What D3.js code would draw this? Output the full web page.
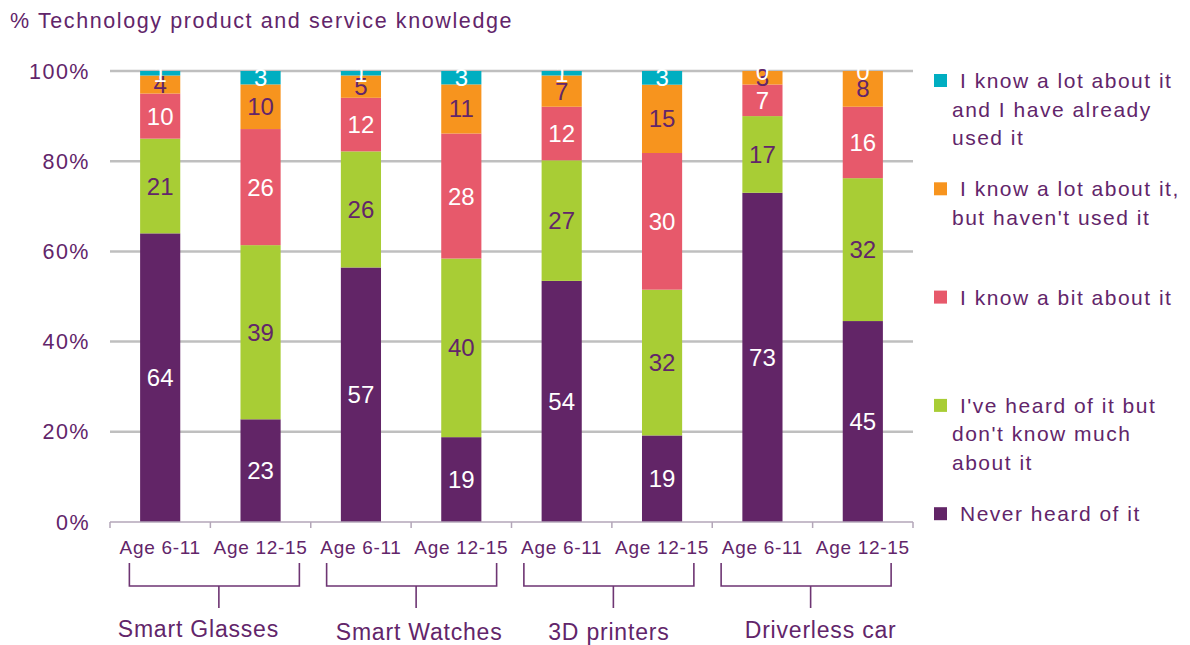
<!DOCTYPE html>
<html><head><meta charset="utf-8">
<script src="https://cdn.jsdelivr.net/npm/d3@7"></script>
<style>
body{margin:0;background:#fff;}
svg text{font-family:"Liberation Sans",Arial,sans-serif;fill:#62256A;}
</style></head><body>
<svg id="c" width="1190" height="645"></svg>
<script>
// ---------- DATA ----------
const title = "% Technology product and service knowledge";
const groups = ["Smart Glasses", "Smart Watches", "3D printers", "Driverless car"];
const ages = ["Age 6-11", "Age 12-15"];
// bottom -> top stacking order
const seriesNames = [
  "Never heard of it",
  "I've heard of it but don't know much about it",
  "I know a bit about it",
  "I know a lot about it, but haven't used it",
  "I know a lot about it and I have already used it"
];
const neverHeard     = [64, 23, 57, 19, 54, 19, 73, 45];
const heardNotMuch   = [21, 39, 26, 40, 27, 32, 17, 32];
const knowBit        = [10, 26, 12, 28, 12, 30, 7, 16];
const knowLotNotUsed = [4, 10, 5, 11, 7, 15, 3, 8];
const knowLotUsed    = [1, 3, 1, 3, 1, 3, 0, 0];
const yTicks = [0, 20, 40, 60, 80, 100];
const yTickLabels = ["0%", "20%", "40%", "60%", "80%", "100%"];
// legend, top -> bottom, wrapped lines
const legendLines = [
  ["I know a lot about it", "and I have already", "used it"],
  ["I know a lot about it,", "but haven't used it"],
  ["I know a bit about it"],
  ["I've heard of it but", "don't know much", "about it"],
  ["Never heard of it"]
];

// ---------- STYLE / LAYOUT ----------
const keys = ["never", "heard", "bit", "lotNot", "lotUsed"];
const colors = ["#622567", "#A8CD35", "#E7596B", "#F7941E", "#00AEC1"];
const labelColors = ["#ffffff", "#62256A", "#ffffff", "#62256A", "#ffffff"];
const plot = {left: 110, right: 913, top: 71, bottom: 522};
const groupLabelNudge = [[-12, -2], [8, 1], [-3, 1], [8, -1]];

const svg = d3.select("#c");

const cats = [];
groups.forEach((g, gi) => ages.forEach((a, ai) => cats.push({id: gi + "-" + ai, group: g, age: a})));
const rows = cats.map((c, i) => ({
  id: c.id,
  never: neverHeard[i], heard: heardNotMuch[i], bit: knowBit[i],
  lotNot: knowLotNotUsed[i], lotUsed: knowLotUsed[i]
}));

const x = d3.scaleBand().domain(cats.map(c => c.id)).range([plot.left, plot.right]).padding(0);
const y = d3.scaleLinear().domain([0, 100]).range([plot.bottom, plot.top]);
const bw = x.bandwidth();
const barW = bw * 0.4;

const stacked = d3.stack().keys(keys).offset(d3.stackOffsetExpand)(rows);

// title
svg.append("text").attr("x", 10).attr("y", 28)
  .style("font-size", "21.5px").style("letter-spacing", "1.6px").text(title);

// gridlines
svg.append("g").selectAll("line").data(yTicks.filter(t => t > 0)).join("line")
  .attr("x1", plot.left).attr("x2", plot.right)
  .attr("y1", d => y(d)).attr("y2", d => y(d))
  .attr("stroke", "#BFBFBF").attr("stroke-width", 2.5);

// y labels
svg.append("g").selectAll("text").data(yTicks).join("text")
  .attr("x", 90).attr("y", d => y(d) + 7.5)
  .attr("text-anchor", "end")
  .style("font-size", "21.5px").style("letter-spacing", "1.5px")
  .text((d, i) => yTickLabels[i]);

// bars
const layers = svg.append("g").selectAll("g").data(stacked).join("g")
  .attr("fill", (d, i) => colors[i]);
layers.selectAll("rect").data(d => d).join("rect")
  .attr("x", d => x(d.data.id) + (bw - barW) / 2)
  .attr("width", barW)
  .attr("y", d => y(d[1] * 100))
  .attr("height", d => y(d[0] * 100) - y(d[1] * 100));

// bar labels
stacked.forEach((layer, li) => {
  svg.append("g").selectAll("text").data(layer).join("text")
    .attr("x", d => x(d.data.id) + bw / 2)
    .attr("y", d => (y(d[0] * 100) + y(d[1] * 100)) / 2 + 8.5)
    .attr("text-anchor", "middle")
    .style("font-size", "24px")
    .style("fill", labelColors[li])
    .text(d => d.data[layer.key]);
});

// x axis line + ticks
const axis = svg.append("g");
axis.append("line").attr("x1", plot.left).attr("x2", plot.right)
  .attr("y1", plot.bottom).attr("y2", plot.bottom)
  .attr("stroke", "#B3A6B8").attr("stroke-width", 1.5);
const bounds = cats.map(c => x(c.id)).concat([plot.right]);
axis.selectAll("line.tk").data(bounds).join("line").attr("class", "tk")
  .attr("x1", d => d).attr("x2", d => d)
  .attr("y1", plot.bottom).attr("y2", plot.bottom + 6)
  .attr("stroke", "#B3A6B8").attr("stroke-width", 1.5);

// age labels
svg.append("g").selectAll("text").data(cats).join("text")
  .attr("x", d => x(d.id) + bw / 2).attr("y", 554)
  .attr("text-anchor", "middle")
  .style("font-size", "19px").style("letter-spacing", "0.7px")
  .text(d => d.age);

// group brackets + labels
groups.forEach((g, gi) => {
  const x0 = x(gi + "-0"), x1 = x(gi + "-1") + bw;
  const gc = (x0 + x1) / 2;
  const bc = gc + 4 - gi * 3.5;
  const l = bc - 85, r = bc + 85;
  svg.append("path")
    .attr("d", `M${l},563V586H${r}V563M${bc + 4.5},586V608`)
    .attr("fill", "none").attr("stroke", "#6E3573").attr("stroke-width", 1.6);
  svg.append("text").attr("x", gc + groupLabelNudge[gi][0]).attr("y", 639 + groupLabelNudge[gi][1])
    .attr("text-anchor", "middle")
    .style("font-size", "23px").style("letter-spacing", "0.8px")
    .text(g);
});

// legend (top -> bottom = reverse of stack order)
const legendOrder = [4, 3, 2, 1, 0];
legendOrder.forEach((si, i) => {
  const base = 88 + i * 108.3;
  svg.append("rect").attr("x", 934).attr("y", base - 14).attr("width", 13).attr("height", 13)
    .attr("fill", colors[si]);
  const lines = legendLines[i];
  const t = svg.append("text").style("font-size", "21px").style("letter-spacing", "1.5px");
  lines.forEach((ln, li) => {
    t.append("tspan").attr("x", li === 0 ? 960 : 952).attr("y", base + li * 28.5).text(ln);
  });
});
</script>
</body></html>
